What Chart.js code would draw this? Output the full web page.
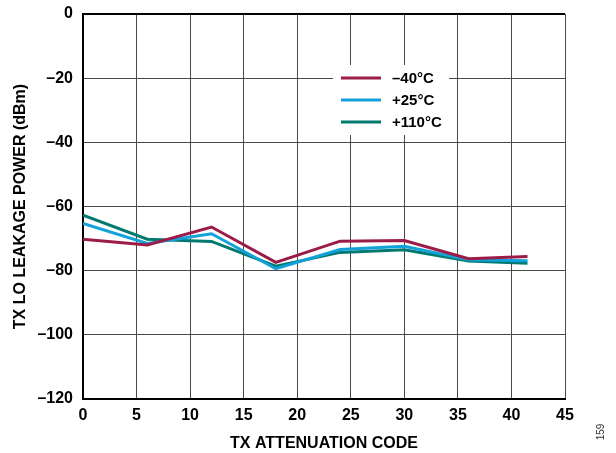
<!DOCTYPE html>
<html>
<head>
<meta charset="utf-8">
<script src="https://cdn.jsdelivr.net/npm/chart.js@4.4.1/dist/chart.umd.min.js"></script>
<style>
  html, body { margin: 0; padding: 0; background: #fff; }
  #wrap { width: 616px; height: 453px; position: relative; }
</style>
</head>
<body>
<div id="wrap"><canvas id="grafico"></canvas></div>
<script>
// datos
const codigos = [0, 6, 12, 18, 24, 30, 36, 41.5];
const menos40 = [-70.2, -72.0, -66.4, -77.4, -70.8, -70.6, -76.3, -75.6];
const mas25   = [-65.3, -71.5, -68.5, -79.4, -73.4, -72.4, -76.6, -76.9];
const mas110  = [-62.7, -70.2, -70.9, -78.6, -74.3, -73.5, -77.0, -77.7];
const etiquetas = ['–40°C', '+25°C', '+110°C'];
const colores = ['#9c1c48', '#12a2d9', '#007a70'];
const ticksX = { min: 0, max: 45, paso: 5 };
const ticksY = { min: -120, max: 0, paso: 20 };

const FUENTE = '"Liberation Sans", Arial, sans-serif';

function puntos(valores) {
    return codigos.map((c, i) => ({ x: c, y: valores[i] }));
}

// leyenda con fondo blanco dentro del area del grafico
const leyendaPlugin = {
    id: 'leyendaDentro',
    beforeDatasetsDraw(chart) {
        const { ctx, chartArea } = chart;
        const x0 = chartArea.left + 250;
        const y0 = chartArea.top + 51;
        ctx.save();
        ctx.fillStyle = '#fff';
        ctx.fillRect(x0, y0, 116, 70);
        chart.data.datasets.forEach((ds, i) => {
            let y = y0 + 13 + i * 22;
            ctx.strokeStyle = ds.borderColor;
            ctx.lineWidth = 3;
            ctx.beginPath();
            ctx.moveTo(x0 + 8, y);
            ctx.lineTo(x0 + 48, y);
            ctx.stroke();
            ctx.fillStyle = '#000';
            ctx.font = 'bold 15px ' + FUENTE;
            ctx.textBaseline = 'middle';
            ctx.fillText(ds.label, x0 + 59, y + 1);
        });
        ctx.restore();
    },
    afterDraw(chart) {
        const { ctx } = chart;
        ctx.save();
        ctx.translate(601, 432);
        ctx.rotate(-Math.PI / 2);
        ctx.fillStyle = '#333';
        ctx.font = '10px ' + FUENTE;
        ctx.textAlign = 'center';
        ctx.textBaseline = 'middle';
        ctx.fillText('159', 0, 0);
        ctx.restore();
    }
};

let ctx = document.getElementById('grafico').getContext('2d');

new Chart(ctx, {
    type: 'line',
    data: {
        datasets: [menos40, mas25, mas110].map((serie, i) => ({
            label: etiquetas[i],
            data: puntos(serie),
            borderColor: colores[i],
            backgroundColor: colores[i],
            borderWidth: 3,
            pointRadius: 0,
            tension: 0,
            fill: false
        }))
    },
    options: {
        responsive: true,
        maintainAspectRatio: false,
        animation: false,
        layout: { padding: { left: 0, right: 51, top: 14, bottom: 0 } },
        plugins: {
            legend: { display: false },
            tooltip: { enabled: false }
        },
        scales: {
            x: {
                type: 'linear',
                min: ticksX.min,
                max: ticksX.max,
                afterFit: s => { s.height = 54; },
                ticks: {
                    stepSize: ticksX.paso,
                    color: '#000',
                    padding: 7,
                    font: { family: FUENTE, size: 16, weight: 'bold' }
                },
                grid: { color: '#4a4a4a', lineWidth: 1, drawTicks: false },
                border: { color: '#000', width: 2 },
                title: {
                    display: true,
                    text: 'TX ATTENUATION CODE',
                    color: '#000',
                    padding: { top: 13, bottom: 0 },
                    font: { family: FUENTE, size: 16, weight: 'bold' }
                }
            },
            y: {
                min: ticksY.min,
                max: ticksY.max,
                afterFit: s => { s.width = 83; s.paddingTop = 0; s.paddingBottom = 0; },
                ticks: {
                    stepSize: ticksY.paso,
                    color: '#000',
                    padding: 10,
                    font: { family: FUENTE, size: 16, weight: 'bold' },
                    callback: v => v < 0 ? '–' + Math.abs(v) : v
                },
                grid: {
                    color: c => c.tick && c.tick.value === ticksY.max ? '#000' : '#4a4a4a',
                    lineWidth: c => c.tick && c.tick.value === ticksY.max ? 2 : 1,
                    drawTicks: false
                },
                border: { color: '#000', width: 2 },
                title: {
                    display: true,
                    text: 'TX LO LEAKAGE POWER (dBm)',
                    color: '#000',
                    padding: { top: 11, bottom: 0 },
                    font: { family: FUENTE, size: 16, weight: 'bold' }
                }
            }
        }
    },
    plugins: [leyendaPlugin]
});
</script>
</body>
</html>
